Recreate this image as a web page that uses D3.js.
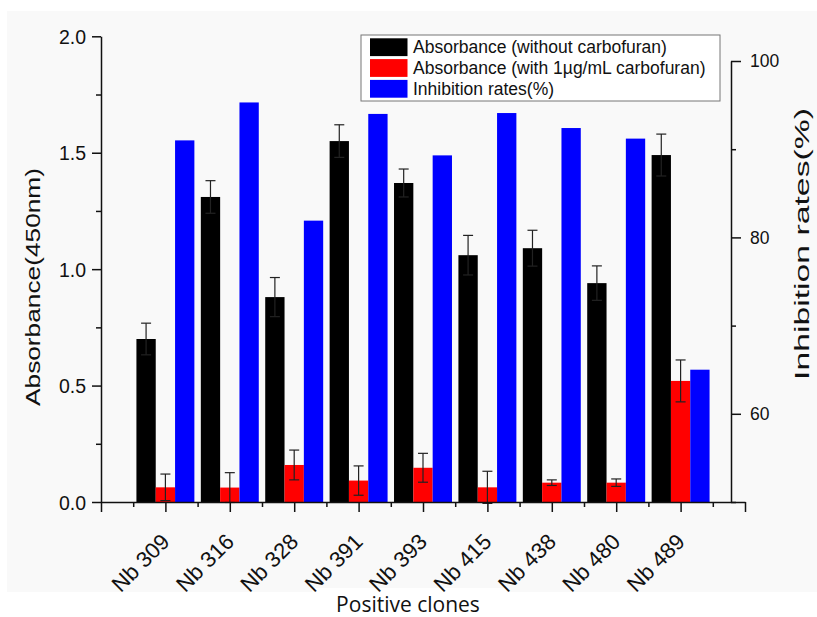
<!DOCTYPE html>
<html>
<head>
<meta charset="utf-8">
<script src="https://cdn.jsdelivr.net/npm/d3@7"></script>
<style>
  body { margin: 0; background: #fff; }
  text { font-family: "Liberation Sans", Arial, sans-serif; fill: #111; }
  .axis path, .axis line { stroke: #111; stroke-width: 1.5; }
</style>
</head>
<body>
<div id="chart"></div>
<script>
// data
const categories = ['Nb 309', 'Nb 316', 'Nb 328', 'Nb 391', 'Nb 393', 'Nb 415', 'Nb 438', 'Nb 480', 'Nb 489'];
const absNoCarb = [0.70, 1.31, 0.88, 1.55, 1.37, 1.06, 1.09, 0.94, 1.49];
const absNoCarbErr = [0.068, 0.070, 0.084, 0.070, 0.060, 0.085, 0.077, 0.074, 0.090];
const absCarb = [0.063, 0.062, 0.159, 0.092, 0.147, 0.063, 0.083, 0.083, 0.520];
const absCarbErr = [0.057, 0.064, 0.064, 0.063, 0.062, 0.069, 0.012, 0.016, 0.090];
const inhibition = [91.0, 95.3, 81.9, 94.0, 89.3, 94.1, 92.4, 91.2, 65.0];

const leftTicks = [0, 0.5, 1.0, 1.5, 2.0];
const rightTicks = [60, 80, 100];
const legendLabels = ['Absorbance (without carbofuran)', 'Absorbance (with 1\u00b5g/mL carbofuran)', 'Inhibition rates(%)'];
const colors = ['#000000', '#ff0000', '#0000ff'];

const W = 817, H = 617;
const svg = d3.select("#chart").append("svg")
    .attr("width", W)
    .attr("height", H);

// light grey page behind the plot
svg.append("rect").attr("x", 7).attr("y", 11).attr("width", W - 7).attr("height", 581).attr("fill", "#f9f9f9");
svg.append("rect").attr("x", 312).attr("y", 588).attr("width", 195).attr("height", 6).attr("fill", "#fff");

// scales
const x = d3.scaleLinear().domain([0, 10]).range([101, 745]);
const yL = d3.scaleLinear().domain([0, 2]).range([502, 36.3]);
const yR = d3.scaleLinear().domain([50, 100]).range([502, 61]);
const bw = x(0.3) - x(0);

// bars
const groups = [
    { vals: absNoCarb, err: absNoCarbErr, off: -1, scale: yL, base: yL(0) },
    { vals: absCarb, err: absCarbErr, off: 0, scale: yL, base: yL(0) },
    { vals: inhibition, err: null, off: 1, scale: yR, base: yR(50) }
];

groups.forEach((g, gi) => {
    svg.append("g").selectAll("rect")
        .data(g.vals)
        .enter()
        .append("rect")
        .attr("x", (d, i) => x(i + 1 + g.off * 0.3) - bw / 2)
        .attr("y", d => g.scale(d))
        .attr("width", bw)
        .attr("height", d => g.base - g.scale(d))
        .attr("fill", colors[gi]);
});

// error bars
groups.filter(g => g.err).forEach(g => {
    const eb = svg.append("g").attr("stroke", "#222").attr("stroke-width", 1.2);
    g.vals.forEach((d, i) => {
        const cx = x(i + 1 + g.off * 0.3);
        const top = g.scale(d + g.err[i]), bot = g.scale(d - g.err[i]);
        eb.append("line").attr("x1", cx).attr("x2", cx).attr("y1", top).attr("y2", bot);
        eb.append("line").attr("x1", cx - 5).attr("x2", cx + 5).attr("y1", top).attr("y2", top);
        eb.append("line").attr("x1", cx - 5).attr("x2", cx + 5).attr("y1", bot).attr("y2", bot);
    });
});

// left axis
const la = svg.append("g").attr("class", "axis")
    .attr("transform", "translate(101,0)")
    .call(d3.axisLeft(yL).tickValues(leftTicks).tickSize(9).tickSizeOuter(0).tickFormat(d3.format(".1f")));
la.selectAll("text").attr("font-size", 19.5).attr("x", -15).attr("dy", "0.36em");
svg.append("g").attr("class", "axis")
    .attr("transform", "translate(101,0)")
    .call(d3.axisLeft(yL).tickValues(d3.range(0.25, 2, 0.5)).tickSize(5).tickFormat(""))
    .select(".domain").remove();

// right axis
const ra = svg.append("g").attr("class", "axis")
    .attr("transform", "translate(731,0)")
    .call(d3.axisRight(yR).tickValues(rightTicks).tickSize(10).tickSizeOuter(0));
ra.selectAll("text").attr("font-size", 17.5).attr("x", 19);
svg.append("g").attr("class", "axis")
    .attr("transform", "translate(731,0)")
    .call(d3.axisRight(yR).tickValues([50, 70, 90]).tickSize(5).tickFormat(""))
    .select(".domain").remove();

// bottom axis
const ba = svg.append("g").attr("class", "axis")
    .attr("transform", "translate(0,502)")
    .call(d3.axisBottom(x).tickValues(d3.range(0, 11)).tickSize(10).tickSizeOuter(0)
        .tickFormat(d => (d >= 1 && d <= 9) ? categories[d - 1] : ""));
ba.selectAll("text")
    .attr("font-size", 22)
    .attr("x", 0).attr("y", 0).attr("dy", 0)
    .attr("text-anchor", "end")
    .attr("transform", "translate(5,41) rotate(-45)");
svg.append("g").attr("class", "axis")
    .attr("transform", "translate(0,502)")
    .call(d3.axisBottom(x).tickValues(d3.range(0.5, 10, 1)).tickSize(5).tickFormat(""))
    .select(".domain").remove();

// axis titles
svg.append("text")
    .attr("transform", "translate(40,287) rotate(-90)")
    .attr("text-anchor", "middle")
    .attr("font-size", 21)
    .attr("textLength", 238).attr("lengthAdjust", "spacingAndGlyphs")
    .text("Absorbance(450nm)");

svg.append("text")
    .attr("transform", "translate(809,244) rotate(-90)")
    .attr("text-anchor", "middle")
    .attr("font-size", 20)
    .attr("textLength", 272).attr("lengthAdjust", "spacingAndGlyphs")
    .text("Inhibition rates(%)");

svg.append("text")
    .attr("x", 408).attr("y", 612)
    .attr("text-anchor", "middle")
    .style("font-family", "'Open Sans', sans-serif")
    .attr("font-size", 21)
    .text("Positive clones");

// legend
const lg = svg.append("g");
lg.append("rect").attr("x", 361).attr("y", 35).attr("width", 359).attr("height", 66)
    .attr("fill", "#fff").attr("stroke", "#777").attr("stroke-width", 1);
legendLabels.forEach((t, i) => {
    lg.append("rect").attr("x", 370).attr("y", 38.3 + i * 20.8).attr("width", 37.5).attr("height", 17.8)
        .attr("fill", colors[i]);
    lg.append("text").attr("x", 413).attr("y", 53.3 + i * 20.6)
        .attr("font-size", 17.5).text(t);
});
</script>
</body>
</html>
